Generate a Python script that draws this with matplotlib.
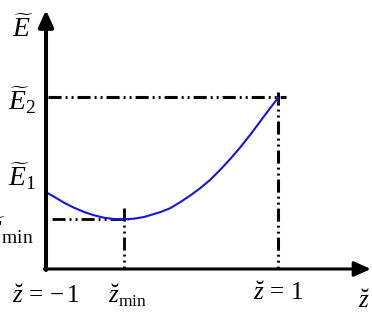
import matplotlib
matplotlib.use("Agg")
import matplotlib.pyplot as plt

plt.rcParams['mathtext.fontset'] = 'custom'
plt.rcParams['mathtext.rm'] = 'Liberation Serif'
plt.rcParams['mathtext.it'] = 'Liberation Serif:italic'
plt.rcParams['font.family'] = ['Liberation Serif', 'DejaVu Sans']
plt.rcParams['lines.scale_dashes'] = False

# --- data ---
z_curve = [-1.0, -0.983, -0.931, -0.845, -0.759, -0.672, -0.586, -0.5, -0.414,
           -0.328, -0.241, -0.155, -0.069, -0.017, 0.069, 0.155, 0.241, 0.328,
           0.414, 0.5, 0.586, 0.672, 0.759, 0.845, 0.931, 1.0]
E_curve = [0.77, 0.757, 0.723, 0.663, 0.613, 0.57, 0.537, 0.513, 0.50,
           0.497, 0.503, 0.52, 0.55, 0.568, 0.607, 0.667, 0.733, 0.807,
           0.89, 0.99, 1.097, 1.213, 1.34, 1.473, 1.607, 1.71]
z_min, E_min = -0.328, 0.50
z_end, E_2 = 1.0, 1.72
labels_y = [r'$\widetilde{E}$', r'$\widetilde{E}_2$', r'$\widetilde{E}_1$', r'$\widetilde{E}_{\min}$']
labels_x = [r'$\breve{z}\,=\,{-}\,1$', r'$\breve{z}_{\min}$', r'$\breve{z}\,=\,1$', r'$\breve{z}$']

fig = plt.figure(figsize=(3.72, 3.2), dpi=100)
ax = fig.add_axes([0, 0, 1, 1])
ax.set_xlim(-1.3966, 1.8103)
ax.set_ylim(-0.51, 2.69)
ax.axis('off')

dash = (0, (9.4, 2.9, 1.4, 2.9, 1.4, 2.9))

# guide lines
ax.plot([-0.985, 1.07], [E_2, E_2], color='k', lw=2.2, linestyle=dash)
ax.plot([z_end, z_end], [E_2 + 0.05, 0], color='k', lw=2.2, linestyle=dash)
ax.plot([-0.95, z_min + 0.035], [E_min, E_min], color='k', lw=2.0, linestyle=dash)
ax.plot([z_min, z_min], [E_min + 0.11, 0], color='k', lw=2.0, linestyle=dash)

# curve
ax.plot(z_curve, E_curve, color='#1616d8', lw=1.5, solid_capstyle='round',
        solid_joinstyle='round')

# axes with arrows
ax.annotate('', xy=(-1.0, 2.59), xytext=(-1.0, -0.01),
            arrowprops=dict(arrowstyle='-|>,head_length=1.0,head_width=0.45',
                            mutation_scale=10, lw=2.9, color='k',
                            shrinkA=0, shrinkB=0))
ax.annotate('', xy=(1.80, 0.0), xytext=(-1.015, 0.0),
            arrowprops=dict(arrowstyle='-|>,head_length=1.0,head_width=0.45',
                            mutation_scale=10, lw=2.2, color='k',
                            shrinkA=0, shrinkB=0))

fsE = 20
fsz = 18
ax.text(-1.293, 2.32, labels_y[0], fontsize=fsE, ha='left', va='baseline')
ax.text(-1.328, 1.59, labels_y[1], fontsize=fsE, ha='left', va='baseline')
ax.text(-1.328, 0.83, labels_y[2], fontsize=fsE, ha='left', va='baseline')
ax.text(-1.112, 0.29, labels_y[3], fontsize=fsE, ha='right', va='baseline')

ax.text(-1.0, -0.34, labels_x[0], fontsize=fsz, ha='center', va='baseline')
ax.text(z_min + 0.03, -0.34, labels_x[1], fontsize=fsz, ha='center', va='baseline')
ax.text(z_end, -0.31, labels_x[2], fontsize=fsz, ha='center', va='baseline')
ax.text(1.741, -0.39, labels_x[3], fontsize=fsz, ha='center', va='baseline')

fig.savefig('out.png', dpi=100)
